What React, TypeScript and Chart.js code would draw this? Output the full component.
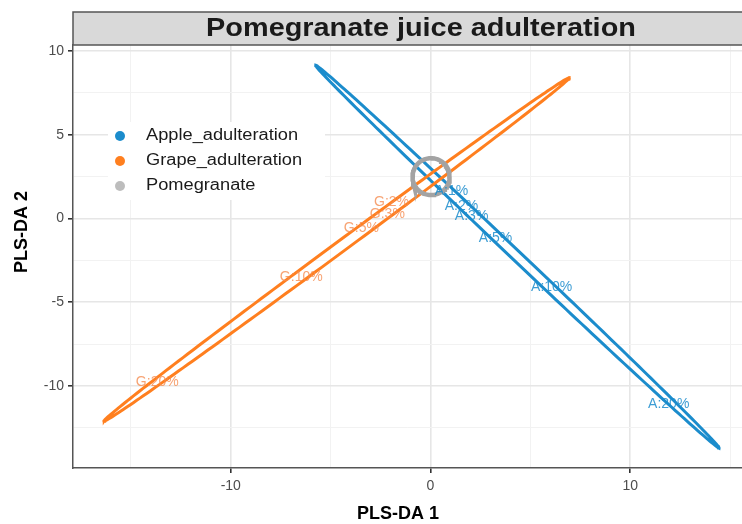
import React, { useEffect, useRef } from "react";
import { Chart, registerables } from "chart.js";

Chart.register(...registerables);

// ---- data ----
const seriesNames = ["Apple_adulteration", "Grape_adulteration", "Pomegranate"];
const seriesColors = ["#1b8ccc", "#ff7f1f", "#a3a3a3"];

// ellipse tips (data units) and minor/major ratio
const appleTipX = [-5.75, 14.45];
const appleTipY = [9.15, -13.7];
const appleRatio = [0.0175];
const grapeTipX = [-16.35, 6.95];
const grapeTipY = [-12.1, 8.4];
const grapeRatio = [0.019];
// pomegranate confidence circle: center + radii (data units)
const pomCenter = [0.03, 2.5];
const pomRadius = [0.93, 1.1];

const appleLabels = ["A:1%", "A:2%", "A:3%", "A:5%", "A:10%", "A:20%"];
const appleLabelX = [1.05, 1.55, 2.06, 3.26, 6.07, 11.93];
const appleLabelY = [1.64, 0.75, 0.15, -1.16, -4.09, -11.07];
const grapeLabels = ["G:2%", "G:3%", "G:5%", "G:10%", "G:20%"];
const grapeLabelX = [-1.95, -2.16, -3.46, -6.47, -13.68];
const grapeLabelY = [0.99, 0.27, -0.57, -3.49, -9.76];

const xTickLabels = [-10, 0, 10];
const yTickLabels = [-10, -5, 0, 5, 10];

const titleText = "Pomegranate juice adulteration";
const xTitle = "PLS-DA 1";
const yTitle = "PLS-DA 2";

const X_MIN = -17.9, X_MAX = 15.6, Y_MIN = -14.9, Y_MAX = 10.36;
const W = 742, H = 524;
const AREA_LEFT = 73, AREA_TOP = 45, AREA_BOTTOM = 468;
// pixel aspect (y px per unit / x px per unit)
const ASPECT = ((AREA_BOTTOM - AREA_TOP) / (Y_MAX - Y_MIN)) / ((W - AREA_LEFT) / (X_MAX - X_MIN));

function ellipseFromTips(tx: number[], ty: number[], ratio: number) {
  const cx = (tx[0] + tx[1]) / 2, cy = (ty[0] + ty[1]) / 2;
  const ux = (tx[1] - tx[0]) / 2, uy = (ty[1] - ty[0]) / 2;
  const pux = ux, puy = uy * ASPECT;
  const vx = -puy * ratio, vy = (pux * ratio) / ASPECT;
  const pts: { x: number; y: number }[] = [];
  const n = 240;
  for (let i = 0; i <= n; i++) {
    const t = (i / n) * Math.PI * 2;
    pts.push({ x: cx + ux * Math.cos(t) + vx * Math.sin(t), y: cy + uy * Math.cos(t) + vy * Math.sin(t) });
  }
  return pts;
}

function circlePts(c: number[], r: number[]) {
  const pts: { x: number; y: number }[] = [];
  const n = 120;
  for (let i = 0; i <= n; i++) {
    const t = (i / n) * Math.PI * 2;
    pts.push({ x: c[0] + r[0] * Math.cos(t), y: c[1] + r[1] * Math.sin(t) });
  }
  return pts;
}

const FONT = "'Liberation Sans', Arial, Helvetica, sans-serif";

const decorPlugin = {
  id: "decor",
  beforeDraw(chart: any) {
    const ctx = chart.ctx;
    ctx.save();
    ctx.fillStyle = "#ffffff";
    ctx.fillRect(0, 0, chart.width, chart.height);
    ctx.restore();
  },
  afterDatasetsDraw(chart: any) {
    const ctx = chart.ctx;
    const xs = chart.scales.x, ys = chart.scales.y;
    ctx.save();
    ctx.font = `14px ${FONT}`;
    ctx.textAlign = "center";
    ctx.textBaseline = "middle";
    ctx.fillStyle = "rgba(27,140,204,0.85)";
    appleLabels.forEach((l, i) => ctx.fillText(l, xs.getPixelForValue(appleLabelX[i]), ys.getPixelForValue(appleLabelY[i])));
    ctx.fillStyle = "rgba(245,140,80,0.8)";
    grapeLabels.forEach((l, i) => ctx.fillText(l, xs.getPixelForValue(grapeLabelX[i]), ys.getPixelForValue(grapeLabelY[i])));
    ctx.restore();
  },
  afterDraw(chart: any) {
    const ctx = chart.ctx;
    const a = chart.chartArea;
    ctx.save();
    // strip
    ctx.fillStyle = "#d9d9d9";
    ctx.fillRect(a.left, 12, chart.width - a.left + 2, a.top - 12);
    ctx.strokeStyle = "#555";
    ctx.lineWidth = 1.5;
    ctx.strokeRect(a.left, 12, chart.width - a.left + 4, a.top - 12);
    ctx.fillStyle = "#1a1a1a";
    ctx.font = `bold 26px ${FONT}`;
    ctx.textAlign = "center";
    ctx.textBaseline = "middle";
    ctx.save();
    ctx.translate(421, 29);
    ctx.scale(1.11, 1);
    ctx.fillText(titleText, 0, 0);
    ctx.restore();

    // legend
    ctx.fillStyle = "#ffffff";
    ctx.fillRect(108, 122, 217, 78);
    const ly = [136, 161, 186];
    seriesNames.forEach((n, i) => {
      ctx.fillStyle = i === 2 ? "#bdbdbd" : seriesColors[i];
      ctx.beginPath();
      ctx.arc(120, ly[i], 5, 0, Math.PI * 2);
      ctx.fill();
      ctx.fillStyle = "#1a1a1a";
      ctx.font = `16px ${FONT}`;
      ctx.textAlign = "left";
      ctx.textBaseline = "middle";
      ctx.save();
      ctx.translate(146, ly[i]);
      ctx.scale(1.14, 1);
      ctx.fillText(n, 0, 0);
      ctx.restore();
    });

    // axis titles
    ctx.fillStyle = "#000";
    ctx.font = `bold 18px ${FONT}`;
    ctx.textAlign = "center";
    ctx.textBaseline = "middle";
    ctx.fillText(xTitle, 398, 514);
    ctx.save();
    ctx.translate(22, 232);
    ctx.rotate(-Math.PI / 2);
    ctx.fillText(yTitle, 0, 0);
    ctx.restore();
    ctx.restore();
  },
};

export default function App() {
  const ref = useRef<HTMLCanvasElement>(null);
  useEffect(() => {
    if (!ref.current) return;
    const chart = new Chart(ref.current, {
      type: "scatter",
      data: {
        datasets: [
          {
            label: seriesNames[2],
            data: circlePts(pomCenter, pomRadius),
            showLine: true,
            borderColor: seriesColors[2],
            borderWidth: 4.5,
            pointRadius: 0,
            tension: 0,
            order: 0,
          },
          {
            label: seriesNames[1],
            data: ellipseFromTips(grapeTipX, grapeTipY, grapeRatio[0]),
            showLine: true,
            borderColor: seriesColors[1],
            borderWidth: 3,
            pointRadius: 0,
            tension: 0,
            order: 1,
          },
          {
            label: seriesNames[0],
            data: ellipseFromTips(appleTipX, appleTipY, appleRatio[0]),
            showLine: true,
            borderColor: seriesColors[0],
            borderWidth: 3,
            pointRadius: 0,
            tension: 0,
            order: 2,
          },
        ],
      },
      options: {
        responsive: false,
        animation: false,
        devicePixelRatio: 1,
        layout: { padding: { top: AREA_TOP, left: 0, right: 0, bottom: 0 } },
        plugins: { legend: { display: false }, tooltip: { enabled: false } },
        scales: {
          x: {
            type: "linear",
            min: X_MIN,
            max: X_MAX,
            afterFit: (s: any) => { s.height = H - AREA_BOTTOM; },
            ticks: {
              stepSize: 5,
              includeBounds: false,
              autoSkip: false,
              maxRotation: 0,
              padding: 5,
              color: "#4d4d4d",
              font: { size: 14, family: FONT },
              callback: (v: any) => (xTickLabels.includes(Number(v)) ? String(v) : ""),
            },
            grid: {
              color: (c: any) => (c.tick && xTickLabels.includes(c.tick.value) ? "#e6e6e6" : "#f2f2f2"),
              lineWidth: (c: any) => (c.tick && xTickLabels.includes(c.tick.value) ? 1.6 : 1),
              tickLength: 5,
              tickColor: (c: any) => (c.tick && xTickLabels.includes(c.tick.value) ? "#333" : "rgba(0,0,0,0)"),
            },
            border: { display: true, color: "#555", width: 1.5 },
          },
          y: {
            type: "linear",
            min: Y_MIN,
            max: Y_MAX,
            afterFit: (s: any) => { s.width = AREA_LEFT; },
            ticks: {
              stepSize: 2.5,
              includeBounds: false,
              autoSkip: false,
              padding: 4,
              color: "#4d4d4d",
              font: { size: 14, family: FONT },
              callback: (v: any) => (yTickLabels.includes(Number(v)) ? String(v) : ""),
            },
            grid: {
              color: (c: any) => (c.tick && yTickLabels.includes(c.tick.value) ? "#e6e6e6" : "#f2f2f2"),
              lineWidth: (c: any) => (c.tick && yTickLabels.includes(c.tick.value) ? 1.6 : 1),
              tickLength: 5,
              tickColor: (c: any) => (c.tick && yTickLabels.includes(c.tick.value) ? "#333" : "rgba(0,0,0,0)"),
            },
            border: { display: true, color: "#555", width: 1.5 },
          },
        },
      },
      plugins: [decorPlugin],
    });
    return () => chart.destroy();
  }, []);
  return (
    <div style={{ position: "absolute", left: 0, top: 0, width: W, height: H }}>
      <canvas ref={ref} width={W} height={H} style={{ width: W, height: H, display: "block" }} />
    </div>
  );
}
